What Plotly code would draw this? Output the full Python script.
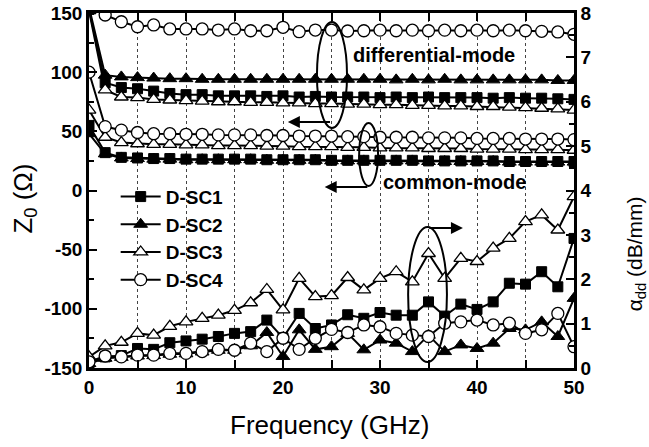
import plotly.graph_objects as go

# Frequency grid (GHz): 31 samples from 0 to 50 GHz
freq = [i * 50 / 30 for i in range(31)]

# Differential-mode characteristic impedance (Ohm)
z_diff_sc1 = [153, 91, 87, 86, 84, 82, 81, 81, 80, 80, 80, 79.5, 80, 79, 79.5, 79, 79, 79,
              78.5, 79, 78.5, 79, 78.5, 78.5, 78.5, 78, 78.5, 78, 78, 77.5, 77]
z_diff_sc2 = [155, 97.5, 96, 95.4, 95, 94.5, 94.5, 94, 94, 94, 94, 94, 94, 94, 94, 94, 94, 94,
              94, 93.5, 94, 93.5, 94, 93.5, 93.5, 93.5, 93.5, 93.5, 93.5, 93, 93]
z_diff_sc3 = [152, 85, 79, 78.5, 77, 76.5, 76, 75.5, 75, 75, 74.5, 74.5, 74, 74, 73.5, 73.5,
              73, 73, 72.5, 72.5, 72, 72, 71.5, 71.5, 71, 71, 70.5, 70, 69.5, 69, 68]
z_diff_sc4 = [160, 148.3, 142.6, 138.4, 139.9, 136.5, 136.5, 136.5, 135.6, 136.5, 135, 135,
              137.9, 134.2, 135.6, 135.6, 134.8, 135, 135.5, 135, 135.5, 135, 135.5, 135,
              135.5, 135, 135.5, 135, 134.5, 134, 132]

# Common-mode characteristic impedance (Ohm)
z_cm_sc1 = [55, 32, 28, 27.5, 27, 27, 26.5, 26.5, 26.5, 26.5, 26.5, 26, 26, 26, 26, 25.5, 25.5,
            25.5, 25.5, 25.5, 25.5, 25, 25, 25, 25, 25, 24.5, 24.5, 24.5, 24.5, 24.5]
z_cm_sc2 = [48, 31, 27.5, 27, 26.5, 26.5, 26, 26, 26, 26, 26, 25.5, 25.5, 25.5, 25.5, 25, 25,
            25, 25, 25, 25, 24.5, 24.5, 24.5, 24.5, 24.5, 24, 24, 24, 24, 24]
z_cm_sc3 = [68, 45, 40.5, 39.5, 39, 39, 38.5, 38.5, 38, 38, 38, 37.5, 37.5, 37, 37, 37, 36.5,
            36.5, 36, 36, 36, 35.5, 35.5, 35.5, 35, 35, 35, 34.5, 34.5, 34.5, 34]
z_cm_sc4 = [100, 54, 51, 49, 48, 48, 47.5, 47.5, 47, 47, 47, 46.5, 46.5, 46, 46, 46, 45.5,
            45.5, 45, 45, 45, 44.5, 44.5, 44.5, 44, 44, 44, 43.5, 43.5, 43.5, 43]

# Differential attenuation alpha_dd (dB/mm)
a_sc1 = [0.1, 0.25, 0.28, 0.44, 0.42, 0.57, 0.61, 0.65, 0.71, 0.78, 0.82, 1.08, 0.68, 1.23,
         0.89, 0.97, 1.2, 1.12, 1.25, 1.19, 1.19, 1.49, 1.17, 1.44, 1.32, 1.49, 1.91, 1.89,
         2.17, 1.83, 2.92]
a_sc2 = [0.1, 0.22, 0.24, 0.27, 0.28, 0.31, 0.32, 0.36, 0.4, 0.4, 0.5, 0.8, 0.26, 0.86, 0.42,
         0.48, 0.78, 0.41, 0.63, 0.56, 0.37, 0.74, 0.37, 0.52, 0.44, 0.56, 0.89, 0.86, 1.04,
         0.71, 1.57]
a_sc3 = [0.25, 0.5, 0.58, 0.78, 0.74, 0.94, 1.04, 1.12, 1.19, 1.3, 1.47, 1.77, 1.31, 2.02,
         1.61, 1.63, 2.04, 1.76, 2.02, 2.17, 1.94, 2.58, 2.02, 2.47, 2.40, 2.70, 2.92, 3.30,
         3.45, 3.11, 3.86]
a_sc4 = [0.14, 0.27, 0.25, 0.29, 0.29, 0.33, 0.33, 0.37, 0.42, 0.40, 0.56, 0.37, 0.67, 0.42,
         0.67, 0.87, 0.8, 0.97, 0.93, 0.78, 0.74, 0.71, 1.01, 1.04, 1.08, 0.97, 1.01, 0.78,
         0.86, 1.23, 0.48]

series_names = ["D-SC1", "D-SC2", "D-SC3", "D-SC4"]

# Axis tick labels
x_ticks = [0, 10, 20, 30, 40, 50]
x_ticktext = ["0", "10", "20", "30", "40", "50"]
z_ticks = [-150, -100, -50, 0, 50, 100, 150]
z_ticktext = ["-150", "-100", "-50", "0", "50", "100", "150"]
a_ticks = [0, 1, 2, 3, 4, 5, 6, 7, 8]
a_ticktext = ["0", "1", "2", "3", "4", "5", "6", "7", "8"]

FONT = "Liberation Sans"

styles = [
    dict(symbol="square", size=10, color="black", line=dict(color="black", width=1)),
    dict(symbol="triangle-up", size=12, color="black", line=dict(color="black", width=1)),
    dict(symbol="triangle-up", size=12, color="white", line=dict(color="black", width=1.3)),
    dict(symbol="circle", size=12, color="white", line=dict(color="black", width=1.3)),
]

fig = go.Figure()

groups = [
    ([z_diff_sc1, z_diff_sc2, z_diff_sc3, z_diff_sc4], "y"),
    ([z_cm_sc1, z_cm_sc2, z_cm_sc3, z_cm_sc4], "y"),
    ([a_sc1, a_sc2, a_sc3, a_sc4], "y2"),
]

for gi, (curves, yax) in enumerate(groups):
    for name, vals, mk in zip(series_names, curves, styles):
        fig.add_trace(go.Scatter(
            x=freq, y=vals, yaxis=yax, name=name, legendgroup=name,
            showlegend=(gi == 0), mode="lines+markers",
            line=dict(color="black", width=2), marker=mk,
        ))

axis_common = dict(
    showline=True, linecolor="black", linewidth=2.5, automargin=False,
    ticks="inside", ticklen=8, tickwidth=2, tickcolor="black",
    tickfont=dict(family=FONT, size=19, color="black", weight="bold"),
    zeroline=False,
)

fig.update_layout(
    width=649, height=447,
    margin=dict(l=89, r=75, t=13, b=79),
    paper_bgcolor="white", plot_bgcolor="white",
    font=dict(family=FONT, color="black"),
    xaxis=dict(
        range=[0, 50], tickvals=x_ticks, ticktext=x_ticktext,
        mirror="allticks", showgrid=True, gridcolor="#444", gridwidth=1,
        griddash="3px,3px",
        minor=dict(dtick=5, ticklen=6, tickwidth=1.5, tickcolor="black", ticks="inside",
                   showgrid=True, gridcolor="#444", gridwidth=1, griddash="3px,3px"),
        **axis_common,
    ),
    yaxis=dict(
        range=[-150, 150], tickvals=z_ticks, ticktext=z_ticktext, showgrid=False,
        minor=dict(dtick=25, ticklen=5, tickwidth=1.5, tickcolor="black", ticks="inside"),
        **axis_common,
    ),
    yaxis2=dict(
        range=[0, 8], tickvals=a_ticks, ticktext=a_ticktext, showgrid=False,
        overlaying="y", side="right",
        minor=dict(dtick=0.5, ticklen=5, tickwidth=1.5, tickcolor="black", ticks="inside"),
        **axis_common,
    ),
    legend=dict(
        x=0.055, y=0.536, xanchor="left", yanchor="top",
        bgcolor="rgba(0,0,0,0)", itemwidth=40, tracegroupgap=0,
        font=dict(family=FONT, size=19, color="black", weight="bold"),
    ),
    showlegend=True,
)

# Axis titles
fig.add_annotation(text="Frequency (GHz)", xref="paper", yref="paper", x=0.496, y=-0.161,
                   xanchor="center", yanchor="middle",
                   showarrow=False, font=dict(family=FONT, size=26, color="black"))
fig.add_annotation(text="Z<sub>0</sub> (\u03a9)", xref="paper", yref="paper", x=-0.135, y=0.476,
                   xanchor="center", yanchor="middle",
                   textangle=-90, showarrow=False, font=dict(family=FONT, size=26, color="black"))
fig.add_annotation(text="\u03b1<sub>dd</sub> (dB/mm)", xref="paper", yref="paper", x=1.127, y=0.322,
                   xanchor="center", yanchor="middle",
                   textangle=-90, showarrow=False, font=dict(family=FONT, size=21, color="black"))

# Mode labels
fig.add_annotation(text="differential-mode", x=35.6, y=114.5, xref="x", yref="y",
                   showarrow=False, font=dict(family=FONT, size=20, color="black", weight="bold"))
fig.add_annotation(text="common-mode", x=37.7, y=7, xref="x", yref="y",
                   showarrow=False, font=dict(family=FONT, size=20, color="black", weight="bold"))

# Ellipses grouping curves
fig.add_shape(type="circle", xref="x", yref="y", x0=23.5, x1=26.6, y0=52.8, y1=142.4,
              line=dict(color="black", width=2))
fig.add_shape(type="circle", xref="x", yref="y", x0=27.85, x1=29.8, y0=3.8, y1=57,
              line=dict(color="black", width=2))
fig.add_shape(type="circle", xref="x", yref="y2", x0=32.9, x1=36.9, y0=0.135, y1=3.18,
              line=dict(color="black", width=2))

# Arrows pointing to the relevant axis
fig.add_annotation(x=20.5, y=57.9, ax=25.0, ay=57.9, xref="x", yref="y", axref="x", ayref="y",
                   showarrow=True, arrowhead=2, arrowsize=1.2, arrowwidth=2, arrowcolor="black", text="")
fig.add_annotation(x=24.3, y=3, ax=28.85, ay=3, xref="x", yref="y", axref="x", ayref="y",
                   showarrow=True, arrowhead=2, arrowsize=1.2, arrowwidth=2, arrowcolor="black", text="")
fig.add_annotation(x=38.55, y=3.155, ax=34.93, ay=3.155, xref="x", yref="y2", axref="x", ayref="y2",
                   showarrow=True, arrowhead=2, arrowsize=1.2, arrowwidth=2, arrowcolor="black", text="")

fig.write_html("out.html")
